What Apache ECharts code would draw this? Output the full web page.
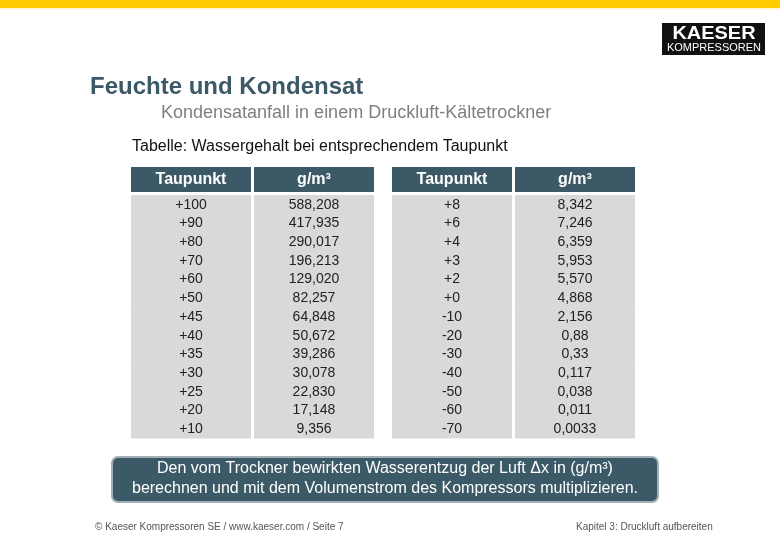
<!DOCTYPE html>
<html><head><meta charset="utf-8">
<script src="https://cdn.jsdelivr.net/npm/echarts@6/dist/echarts.min.js"></script>
<style>html,body{margin:0;padding:0;background:#fff}#c{width:780px;height:540px}</style>
</head><body><div id="c"></div>
<script>
const headers = ['Taupunkt', 'g/m³'];
const taupunktLeft = ['+100','+90','+80','+70','+60','+50','+45','+40','+35','+30','+25','+20','+10'];
const wasserLeft = ['588,208','417,935','290,017','196,213','129,020','82,257','64,848','50,672','39,286','30,078','22,830','17,148','9,356'];
const taupunktRight = ['+8','+6','+4','+3','+2','+0','-10','-20','-30','-40','-50','-60','-70'];
const wasserRight = ['8,342','7,246','6,359','5,953','5,570','4,868','2,156','0,88','0,33','0,117','0,038','0,011','0,0033'];
const rowIdx = taupunktLeft.map((_, i) => String(i));
const colIdx = ['0', '1'];

const FONT = '"Liberation Sans", Arial, sans-serif';
const HEAD = '#3b5966';
const BODY = '#d9d9d9';

function bodySeries(gi, cols) {
  const data = [];
  const texts = [];
  cols.forEach((arr, c) => arr.forEach((t, r) => { data.push([c, r]); texts.push(t); }));
  return {
    type: 'custom', xAxisIndex: gi, yAxisIndex: gi, data: data, silent: true,
    renderItem: function (params, api) {
      const p = api.coord([api.value(0), api.value(1)]);
      const s = api.size([1, 1]);
      const left = p[0] - s[0] / 2, top = p[1] - s[1] / 2;
      return { type: 'group', children: [
        { type: 'rect', shape: { x: left, y: top, width: s[0] - 3, height: s[1] + 0.6 }, style: { fill: BODY } },
        { type: 'text', x: left + (s[0] - 3) / 2, y: p[1] + 0.5, style: { text: texts[params.dataIndex], fill: '#222', font: '14px ' + FONT, textAlign: 'center', textVerticalAlign: 'middle' } }
      ]};
    }
  };
}
function headSeries(gi) {
  return {
    type: 'custom', xAxisIndex: gi, yAxisIndex: gi, data: headers.map((h, c) => [c, 0]), silent: true,
    renderItem: function (params, api) {
      const p = api.coord([api.value(0), 0]);
      const s = api.size([1, 1]);
      const left = p[0] - s[0] / 2, gridTop = p[1] - s[1] / 2;
      return { type: 'group', children: [
        { type: 'rect', shape: { x: left, y: gridTop - 28, width: s[0] - 3, height: 25 }, style: { fill: HEAD } },
        { type: 'text', x: left + (s[0] - 3) / 2, y: gridTop - 15.5, style: { text: headers[params.dataIndex], fill: '#fff', font: 'bold 16px ' + FONT, textAlign: 'center', textVerticalAlign: 'middle' } }
      ]};
    }
  };
}
const hiddenCat = (gi, data, inv) => ({ type: 'category', gridIndex: gi, data: data, inverse: !!inv, show: false, boundaryGap: true });

const chart = echarts.init(document.getElementById('c'), null, { renderer: 'canvas' });
chart.setOption({
  animation: false,
  backgroundColor: '#fff',
  grid: [
    { left: 131, top: 195, width: 246, height: 243 },
    { left: 392, top: 195, width: 246, height: 243 }
  ],
  xAxis: [hiddenCat(0, colIdx), hiddenCat(1, colIdx)],
  yAxis: [hiddenCat(0, rowIdx, true), hiddenCat(1, rowIdx, true)],
  series: [
    bodySeries(0, [taupunktLeft, wasserLeft]), headSeries(0),
    bodySeries(1, [taupunktRight, wasserRight]), headSeries(1)
  ],
  graphic: [
    { type: 'rect', shape: { x: 0, y: 0, width: 780, height: 8 }, style: { fill: '#ffcc00' } },
    { type: 'rect', shape: { x: 0, y: 8, width: 780, height: 3 }, style: { fill: new echarts.graphic.LinearGradient(0, 0, 0, 1, [{ offset: 0, color: 'rgba(255,230,120,0.6)' }, { offset: 1, color: 'rgba(255,255,255,0)' }]) } },
    { type: 'rect', shape: { x: 662, y: 23, width: 103, height: 32 }, style: { fill: '#111' } },
    { type: 'text', x: 714, y: 34, scaleX: 1.05, style: { text: 'KAESER', fill: '#fff', font: 'bold 19px "Liberation Sans Narrow", "Liberation Sans", sans-serif', textAlign: 'center', textVerticalAlign: 'middle' } },
    { type: 'text', x: 714, y: 48, style: { text: 'KOMPRESSOREN', fill: '#fff', font: '11px "Liberation Sans", sans-serif', textAlign: 'center', textVerticalAlign: 'middle' } },
    { type: 'text', x: 90, y: 87, style: { text: 'Feuchte und Kondensat', fill: '#3b5966', font: 'bold 24px ' + FONT, textVerticalAlign: 'middle' } },
    { type: 'text', x: 161, y: 113, style: { text: 'Kondensatanfall in einem Druckluft-Kältetrockner', fill: '#7f7f7f', font: '18px ' + FONT, textVerticalAlign: 'middle' } },
    { type: 'text', x: 132, y: 147, style: { text: 'Tabelle: Wassergehalt bei entsprechendem Taupunkt', fill: '#111', font: '16px ' + FONT, textVerticalAlign: 'middle' } },
    { type: 'rect', shape: { x: 112, y: 457, width: 546, height: 45, r: 6 }, style: { fill: '#3b5966', stroke: '#a3b0b7', lineWidth: 2 } },
    { type: 'text', x: 385, y: 469, style: { text: 'Den vom Trockner bewirkten Wasserentzug der Luft Δx in (g/m³)', fill: '#fff', font: '16px ' + FONT, textAlign: 'center', textVerticalAlign: 'middle' } },
    { type: 'text', x: 385, y: 489, style: { text: 'berechnen und mit dem Volumenstrom des Kompressors multiplizieren.', fill: '#fff', font: '16px ' + FONT, textAlign: 'center', textVerticalAlign: 'middle' } },
    { type: 'text', x: 95, y: 527, style: { text: '© Kaeser Kompressoren SE / www.kaeser.com / Seite 7', fill: '#555', font: '10px ' + FONT, textVerticalAlign: 'middle' } },
    { type: 'text', x: 576, y: 527, style: { text: 'Kapitel 3: Druckluft aufbereiten', fill: '#555', font: '10px ' + FONT, textVerticalAlign: 'middle' } }
  ]
});
</script></body></html>
